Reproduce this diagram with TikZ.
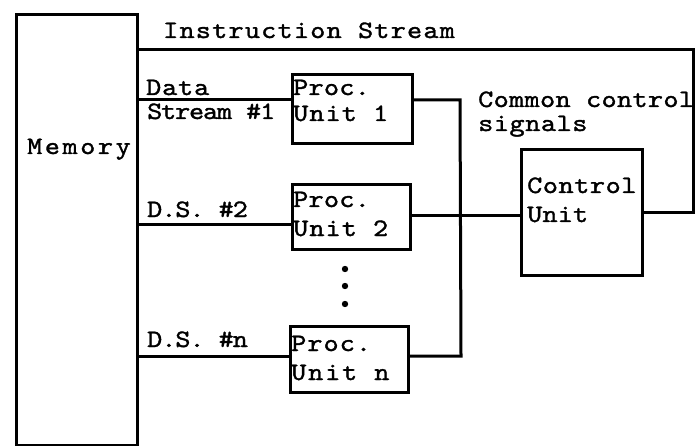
\documentclass[tikz,border=0pt]{standalone}
\usepackage{fontspec}
\newfontfamily\twfont[FakeBold=1.4,FakeStretch=1.15]{lmmono10-regular.otf}
\begin{document}
\begin{tikzpicture}[x=1pt,y=-1pt,
  box/.style={draw,line width=3pt,rectangle,inner sep=0pt,anchor=north west},
  wire/.style={line width=3pt},
  lbl/.style={anchor=base west,inner sep=0pt,font=\twfont\fontsize{25}{30}\selectfont\addfontfeatures{LetterSpace=#1}},
  lbl/.default=2]
\useasboundingbox (0,0) rectangle (700,446);
% boxes
\node[box,minimum width=121pt,minimum height=431pt] (mem) at (15,13) {};
\node[box,minimum width=120pt,minimum height=69pt] (p1) at (291,73) {};
\node[box,minimum width=118pt,minimum height=65pt] (p2) at (291,183) {};
\node[box,minimum width=118pt,minimum height=66pt] (pn) at (289,325) {};
\node[box,minimum width=121pt,minimum height=126pt] (ctrl) at (520,148) {};
% helper coordinates
\coordinate (ir) at (693,50);
\coordinate (d1) at (0,100);
\coordinate (d2) at (0,224);
\coordinate (dn) at (0,356);
\coordinate (c2) at (0,215);
\coordinate (bt) at (460,100);
\coordinate (bb) at (461,356);
% connectors
\draw[wire] (ctrl.east) -| (ir) -- (mem.east |- ir);
\draw[wire] (mem.east |- d1) -- (p1.west |- d1);
\draw[wire] (mem.east |- d2) -- (p2.west |- d2);
\draw[wire] (mem.east |- dn) -- (pn.west |- dn);
\draw[wire] (p1.east |- bt) -- (bt) -- (bb) -- (pn.east |- bb);
\draw[wire] (p2.east |- c2) -- (ctrl.west |- c2);
% dots
\fill (345,269) circle (3.2pt);
\fill (345,286) circle (3.2pt);
\fill (345,304) circle (3.2pt);
% labels
\node[lbl=5] (tinst) at (163,38) {Instruction Stream};
\node[lbl=3.6] (tdata) at (146,95) {Data};
\node[lbl=-4.5] (tds1) at (147,119) {Stream \#1};
\node[lbl=10.4] (tmem) at (27,154) {Memory};
\node[lbl=-4] (tds2) at (147,217) {D.S. \#2};
\node[lbl=-4] (tdsn) at (147,347) {D.S. \#n};
\node[lbl=1.2] (tp1a) at (293,95) {Proc.};
\node[lbl=4.4] (tp1b) at (293,121) {Unit 1};
\node[lbl=1.2] (tp2a) at (293,207) {Proc.};
\node[lbl=4.4] (tp2b) at (293,236) {Unit 2};
\node[lbl=4.4] (tpna) at (291,351) {Proc.};
\node[lbl=7.6] (tpnb) at (291,380) {Unit n};
\node[lbl=1.5] (tcc1) at (478,107) {Common control};
\node[lbl=2.4] (tcc2) at (478,131) {signals};
\node[lbl=2.4] (tcu1) at (527,193) {Control};
\node[lbl=0.8] (tcu2) at (527,222) {Unit};
\end{tikzpicture}
\end{document}
